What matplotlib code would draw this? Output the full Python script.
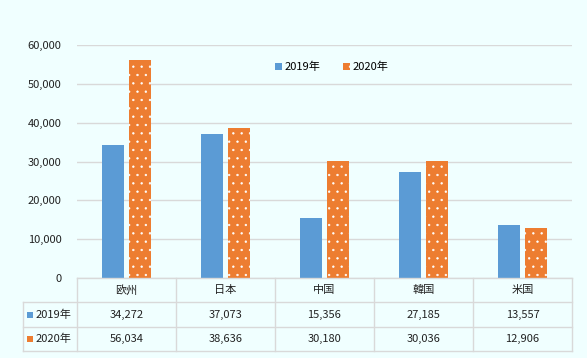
import matplotlib
matplotlib.use("Agg")
import matplotlib.pyplot as plt
import numpy as np

plt.rcParams['font.family'] = ['Noto Sans CJK JP', 'DejaVu Sans']
plt.rcParams['hatch.linewidth'] = 0.45

regions = ['欧州', '日本', '中国', '韓国', '米国']
series_names = ['2019年', '2020年']
values_2019 = [34272, 37073, 15356, 27185, 13557]
values_2020 = [56034, 38636, 30180, 30036, 12906]
yticks = [0, 10000, 20000, 30000, 40000, 50000, 60000]

blue = '#5B9BD5'
orange = '#ED7D31'
bg = '#F0FFFF'
grid_c = '#D9D9D9'
fs = 8

W, H = 587, 358
fig = plt.figure(figsize=(W / 100, H / 100), dpi=100, facecolor=bg)

# plot area in pixel coords
left_px, right_px, top_px, bot_px = 77, 572, 45, 278
ax = fig.add_axes([left_px / W, 1 - bot_px / H, (right_px - left_px) / W, (bot_px - top_px) / H])
ax.set_facecolor(bg)

x = np.arange(len(regions))
w = 0.225
off = 0.135
ax.bar(x - off, values_2019, w, color=blue, label=series_names[0], zorder=3)
ax.bar(x + off, values_2020, w, color=orange, edgecolor='white', linewidth=0,
       hatch='..', label=series_names[1], zorder=3)

ax.set_xlim(-0.5, len(regions) - 0.5)
ax.set_ylim(0, 60000)
ax.set_yticks(yticks)
ax.set_yticklabels([f'{v:,}' for v in yticks], fontsize=fs, color='#222222')
ax.tick_params(axis='y', length=0, pad=11)
ax.set_xticks([])
ax.grid(axis='y', color=grid_c, linewidth=1, zorder=0)
for s in ax.spines.values():
    s.set_visible(False)

leg = ax.legend(loc='upper center', bbox_to_anchor=(0.515, 0.97), ncol=2, frameon=False,
                fontsize=fs, handlelength=0.6, handleheight=0.6, handletextpad=0.3,
                columnspacing=2.0)

# data table drawn in pixel coordinates
col_edges = [left_px + i * (right_px - left_px) / len(regions) for i in range(len(regions) + 1)]
row_edges = [278, 302, 327, 351]
label_left = 23


def fx(px):
    return px / W


def fy(py):
    return 1 - py / H


lines_kw = dict(color=grid_c, linewidth=1, transform=fig.transFigure)
# horizontal lines
fig.add_artist(plt.Line2D([fx(left_px), fx(right_px)], [fy(row_edges[0])] * 2, **lines_kw))
for r in row_edges[1:]:
    fig.add_artist(plt.Line2D([fx(label_left), fx(right_px)], [fy(r)] * 2, **lines_kw))
# vertical lines
for c in col_edges:
    fig.add_artist(plt.Line2D([fx(c)] * 2, [fy(row_edges[0]), fy(row_edges[-1])], **lines_kw))
fig.add_artist(plt.Line2D([fx(label_left)] * 2, [fy(row_edges[1]), fy(row_edges[-1])], **lines_kw))

txt_kw = dict(fontsize=fs, color='#222222', ha='center', va='center')
for i, name in enumerate(regions):
    cx = (col_edges[i] + col_edges[i + 1]) / 2
    fig.text(fx(cx), fy((row_edges[0] + row_edges[1]) / 2), name, **txt_kw)
    fig.text(fx(cx), fy((row_edges[1] + row_edges[2]) / 2), f'{values_2019[i]:,}', **txt_kw)
    fig.text(fx(cx), fy((row_edges[2] + row_edges[3]) / 2), f'{values_2020[i]:,}', **txt_kw)

# row labels with small legend keys
for k, (name, col) in enumerate(zip(series_names, [blue, orange])):
    cy = (row_edges[k + 1] + row_edges[k + 2]) / 2
    fig.add_artist(plt.Rectangle((fx(27), fy(cy + 3)), 6 / W, 6 / H, transform=fig.transFigure,
                                 facecolor=col, edgecolor='none'))
    fig.text(fx(36), fy(cy), name, fontsize=fs, color='#222222', ha='left', va='center')

fig.savefig('out.png', dpi=100, facecolor=bg)
